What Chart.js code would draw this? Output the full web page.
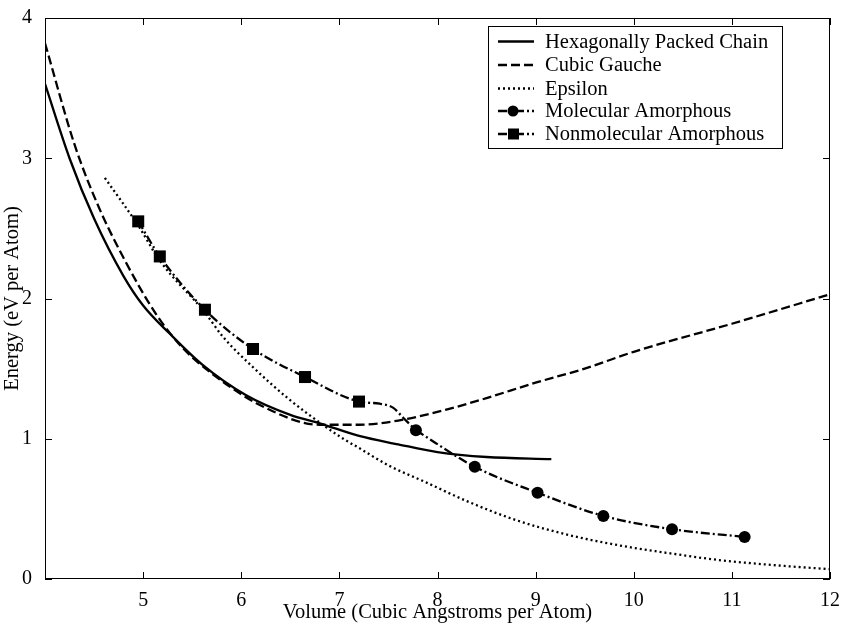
<!DOCTYPE html>
<html>
<head>
<meta charset="utf-8">
<script src="https://cdn.jsdelivr.net/npm/chart.js@4"></script>
<style>
  html, body { margin: 0; padding: 0; background: #fff; }
  #wrap { width: 842px; height: 625px; }
</style>
</head>
<body>
<div id="wrap"><canvas id="chart" width="842" height="625"></canvas></div>
<script>
// values
const xTicks = [5, 6, 7, 8, 9, 10, 11, 12];
const yTicks = [0, 1, 2, 3, 4];

const hexVol = [4.0, 4.25, 4.5, 4.8, 5.0, 5.27, 5.6, 6.05, 6.5, 6.8, 7.2, 7.6, 8.0, 8.5, 9.16];
const hexEnergy = [3.53, 3.0, 2.57, 2.16, 1.95, 1.75, 1.53, 1.31, 1.17, 1.11, 1.02, 0.96, 0.905, 0.87, 0.855];

const cubicVol = [4.0, 4.3, 4.53, 4.8, 5.14, 5.4, 5.71, 6.22, 6.8, 7.2, 7.6, 8.1, 8.5, 9.0, 9.5, 10.0, 11.0, 12.0];
const cubicEnergy = [3.82, 3.1, 2.68, 2.29, 1.88, 1.65, 1.46, 1.23, 1.10, 1.10, 1.13, 1.21, 1.29, 1.40, 1.50, 1.62, 1.82, 2.03];

const epsVol = [4.61, 4.95, 5.17, 5.63, 5.81, 6.12, 6.49, 6.83, 7.04, 7.21, 7.5, 7.88, 8.3, 8.8, 9.3, 9.85, 10.4, 10.87, 11.5, 12.0];
const epsEnergy = [2.86, 2.52, 2.27, 1.90, 1.73, 1.51, 1.28, 1.10, 1.00, 0.93, 0.81, 0.69, 0.555, 0.42, 0.32, 0.24, 0.18, 0.135, 0.095, 0.07];

const molVol = [7.78, 8.38, 9.02, 9.69, 10.39, 11.13];
const molEnergy = [1.06, 0.80, 0.615, 0.45, 0.355, 0.30];

const nonmolVol = [4.95, 5.17, 5.63, 6.12, 6.65, 7.20, 7.41, 7.55, 7.65, 7.78];
const nonmolEnergy = [2.55, 2.30, 1.92, 1.64, 1.44, 1.265, 1.25, 1.22, 1.15, 1.06];
const nonmolMarked = 6; // the first six are drawn with squares

const labels = ['Hexagonally Packed Chain', 'Cubic Gauche', 'Epsilon', 'Molecular Amorphous', 'Nonmolecular Amorphous'];

function pts(xs, ys) {
  return xs.map((x, i) => ({ x: x, y: ys[i] }));
}

const serif = '"Liberation Serif", "DejaVu Serif", serif';

const datasets = [
  { label: labels[0], data: pts(hexVol, hexEnergy), borderDash: [] , pointRadius: 0 },
  { label: labels[1], data: pts(cubicVol, cubicEnergy), borderDash: [9, 4], pointRadius: 0 },
  { label: labels[2], data: pts(epsVol, epsEnergy), borderDash: [2, 3], pointRadius: 0 },
  { label: labels[3], data: pts(molVol, molEnergy), borderDash: [9, 3, 2, 3], pointRadius: 6, pointStyle: 'circle' },
  { label: labels[4], data: pts(nonmolVol, nonmolEnergy), borderDash: [9, 3, 2, 3],
    pointRadius: nonmolVol.map((v, i) => i < nonmolMarked ? 8.5 : 0), pointStyle: 'rect' }
];
datasets.forEach(d => {
  d.showLine = true;
  d.borderColor = '#000';
  d.backgroundColor = '#000';
  d.pointBackgroundColor = '#000';
  d.pointBorderColor = '#000';
  d.pointBorderWidth = 0;
  d.borderWidth = 2.3;
  d.cubicInterpolationMode = 'monotone';
  d.fill = false;
});

// frame, inward ticks and legend box
const framePlugin = {
  id: 'frame',
  afterDatasetsDraw(chart) {
    const ctx = chart.ctx;
    const a = chart.chartArea;
    const xs = chart.scales.x, ys = chart.scales.y;
    ctx.save();
    ctx.strokeStyle = '#000';
    ctx.lineWidth = 1;
    ctx.setLineDash([]);
    ctx.strokeRect(a.left + 0.5, a.top + 0.5, a.right - a.left - 1, a.bottom - a.top - 1);
    ctx.beginPath();
    xTicks.forEach(t => {
      const px = Math.round(xs.getPixelForValue(t)) + 0.5;
      ctx.moveTo(px, a.bottom); ctx.lineTo(px, a.bottom - 7);
      ctx.moveTo(px, a.top); ctx.lineTo(px, a.top + 7);
    });
    yTicks.forEach(t => {
      const py = Math.round(ys.getPixelForValue(t)) + 0.5;
      ctx.moveTo(a.left, py); ctx.lineTo(a.left + 7, py);
      ctx.moveTo(a.right, py); ctx.lineTo(a.right - 7, py);
    });
    ctx.stroke();

    // legend
    const bx = 488, by = 26, bw = 294, bh = 122;
    ctx.fillStyle = '#fff';
    ctx.fillRect(bx, by, bw, bh);
    ctx.strokeRect(bx + 0.5, by + 0.5, bw, bh);
    const rows = [41.5, 65, 88.5, 111, 134];
    ctx.font = '20.5px ' + serif;
    ctx.textBaseline = 'middle';
    chart.data.datasets.forEach((d, i) => {
      const y = rows[i];
      ctx.setLineDash(d.borderDash);
      ctx.lineWidth = 2.3;
      ctx.beginPath();
      ctx.moveTo(498, y); ctx.lineTo(534, y);
      ctx.stroke();
      ctx.setLineDash([]);
      if (i === 3) {
        ctx.beginPath(); ctx.arc(513, y, 5.5, 0, Math.PI * 2); ctx.fillStyle = '#000'; ctx.fill();
      } else if (i === 4) {
        ctx.fillStyle = '#000'; ctx.fillRect(508, y - 5.5, 11, 11);
      }
      ctx.fillStyle = '#000';
      ctx.fillText(d.label, 545, y + 1);
    });
    ctx.restore();
  }
};

new Chart(document.getElementById('chart'), {
  type: 'scatter',
  data: { datasets: datasets },
  plugins: [framePlugin],
  options: {
    responsive: false,
    animation: false,
    layout: { padding: { top: 18, right: 11, left: 0, bottom: 0 } },
    plugins: { legend: { display: false }, tooltip: { enabled: false } },
    scales: {
      x: {
        type: 'linear', min: 4, max: 12,
        afterFit: s => { s.height = 46; },
        afterBuildTicks: s => { s.ticks = xTicks.map(v => ({ value: v })); },
        grid: { display: false }, border: { display: false },
        ticks: { color: '#000', font: { family: serif, size: 20 }, padding: 2, maxRotation: 0 },
        title: { display: true, text: 'Volume (Cubic Angstroms per Atom)', color: '#000',
                 font: { family: serif, size: 20.5 }, padding: 0 }
      },
      y: {
        type: 'linear', min: 0, max: 4,
        afterFit: s => { s.width = 45; },
        afterBuildTicks: s => { s.ticks = yTicks.map(v => ({ value: v })); },
        grid: { display: false }, border: { display: false },
        ticks: { color: '#000', font: { family: serif, size: 20 }, padding: 5 },
        title: { display: true, text: 'Energy (eV per Atom)', color: '#000',
                 font: { family: serif, size: 20.5 }, padding: 0 }
      }
    }
  }
});
</script>
</body>
</html>
